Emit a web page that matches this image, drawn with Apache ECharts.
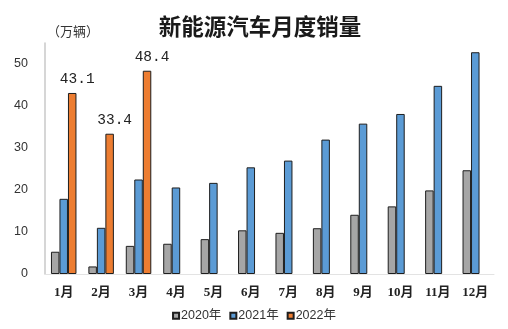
<!DOCTYPE html>
<html>
<head>
<meta charset="utf-8">
<script src="https://cdn.jsdelivr.net/npm/echarts@6/dist/echarts.min.js"></script>
<style>html,body{margin:0;padding:0;background:#fff;}#c{width:508px;height:329px;}</style>
</head>
<body>
<div id="c"></div>
<script>
var months = ['1月','2月','3月','4月','5月','6月','7月','8月','9月','10月','11月','12月'];
var sales2020 = [5.3, 1.8, 6.7, 7.2, 8.3, 10.4, 9.8, 10.9, 14.1, 16.1, 19.9, 24.7];
var sales2021 = [17.9, 11.0, 22.5, 20.6, 21.7, 25.4, 27.0, 32.0, 35.8, 38.1, 44.8, 52.8];
var sales2022 = [43.1, 33.4, 48.4, null, null, null, null, null, null, null, null, null];
var seriesNames = ['2020年', '2021年', '2022年'];
var yTicks = { min: 0, max: 55, interval: 10 };

var chart = echarts.init(document.getElementById('c'));
var cjk = "'Noto Sans CJK SC'";
var border = { borderColor: '#1e1e1e', borderWidth: 1 };
chart.setOption({
  animation: false,
  backgroundColor: '#fff',
  title: [{
    text: '新能源汽车月度销量',
    left: 255, top: 10, textAlign: 'center',
    textStyle: { fontSize: 22.5, fontWeight: 'bold', color: '#1a1a1a', fontFamily: cjk }
  }, {
    text: '（万辆）',
    left: 42, top: 20,
    textStyle: { fontSize: 13, fontWeight: 'normal', color: '#333', fontFamily: cjk }
  }],
  legend: {
    bottom: 2, left: 'center',
    itemWidth: 6, itemHeight: 6, itemGap: 8,
    icon: 'rect',
    textStyle: { fontSize: 12.5, color: '#333', fontFamily: "'Liberation Sans', " + cjk, padding: [0, 0, 0, -3] },
    data: seriesNames
  },
  grid: { left: 45, right: 14, top: 43, bottom: 55, containLabel: false },
  xAxis: {
    type: 'category',
    data: months,
    axisLine: { show: true, lineStyle: { color: '#e3e3e3', width: 1 } },
    axisTick: { show: false },
    axisLabel: { margin: 12, fontSize: 13, color: '#222', fontFamily: "'Liberation Serif', " + cjk, fontWeight: 'bold' }
  },
  yAxis: {
    type: 'value',
    min: yTicks.min, max: yTicks.max, interval: yTicks.interval,
    axisLine: { show: true, lineStyle: { color: '#c8c8c8', width: 1.5 } },
    axisTick: { show: false },
    splitLine: { show: false },
    axisLabel: { margin: 17, fontSize: 12.5, color: '#333', fontFamily: "'Liberation Sans'", showMaxLabel: false }
  },
  series: [{
    name: seriesNames[0], type: 'bar', data: sales2020,
    barWidth: 8.5, barGap: '0%',
    itemStyle: Object.assign({ color: '#a6a6a6' }, border)
  }, {
    name: seriesNames[1], type: 'bar', data: sales2021,
    barWidth: 8.5, barGap: '0%',
    itemStyle: Object.assign({ color: '#5b9bd5' }, border)
  }, {
    name: seriesNames[2], type: 'bar', data: sales2022,
    barWidth: 8.5, barGap: '0%',
    itemStyle: Object.assign({ color: '#ed7d31' }, border),
    label: {
      show: true, position: 'top', distance: 6, offset: [5, 0],
      fontSize: 14.5, color: '#222', fontFamily: "'Liberation Mono'",
      formatter: function (p) { return p.value == null ? '' : p.value.toFixed(1); }
    }
  }]
});
</script>
</body>
</html>
